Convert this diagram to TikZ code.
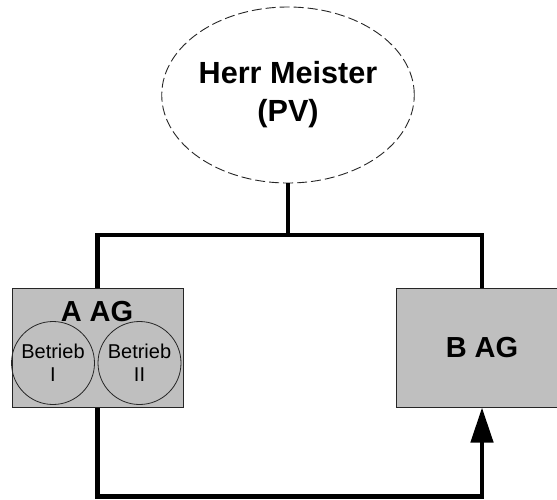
\documentclass[tikz,border=0pt]{standalone}
\usepackage{fontspec}
\setmainfont{Liberation Sans}
\usetikzlibrary{shapes.geometric}
\usetikzlibrary{arrows.meta}
\usetikzlibrary{positioning}

\begin{document}
\begin{tikzpicture}[x=0.5pt, y=-0.5pt,
  firm/.style={draw=black!85, fill=black!25, line width=0.5pt, inner sep=0pt,
    minimum width=85.5pt, minimum height=59.5pt},
  plant/.style={circle, draw=black!85, line width=0.4pt, inner sep=0pt,
    minimum size=41.5pt, align=center, font=\fontsize{10}{11.5}\selectfont},
  link/.style={line width=2.3pt, line join=miter},
  bigtext/.style={font=\bfseries\fontsize{14.5}{17}\selectfont}]

  \useasboundingbox (0,0) rectangle (557,499);

  % person
  \node[ellipse, draw=black!85, dash pattern=on 5pt off 2pt, line width=0.45pt,
        minimum width=115pt, minimum height=88pt, inner sep=0pt,
        align=center, font=\bfseries\fontsize{15.3}{19}\selectfont]
        (pv) at (288,95) {Herr Meister\\(PV)};

  % companies
  \node[firm] (aag) at (97.5,347.5) {};
  \node[firm] (bag) at (482,347.5) {};
  \node[bigtext] (aagname) at (97,312) {A AG};
  \node[bigtext] (bagname) at (bag.center) {B AG};

  % plants of A AG
  \node[plant] (plantone) at (53,363) {Betrieb\\I};
  \node[plant] (planttwo) at (139.5,363) {Betrieb\\II};

  % top connection
  \coordinate (bar) at (288,235);
  \draw[link] (pv.south) -- (bar);
  \draw[link] (aag.north) |- (bar) -| (bag.north);

  % bottom connection
  \coordinate (low) at (290,496.5);
  \draw[link, -{Triangle[length=17.5pt, width=11pt]}] (aag.south) |- (low) -| (bag.south);
\end{tikzpicture}
\end{document}
